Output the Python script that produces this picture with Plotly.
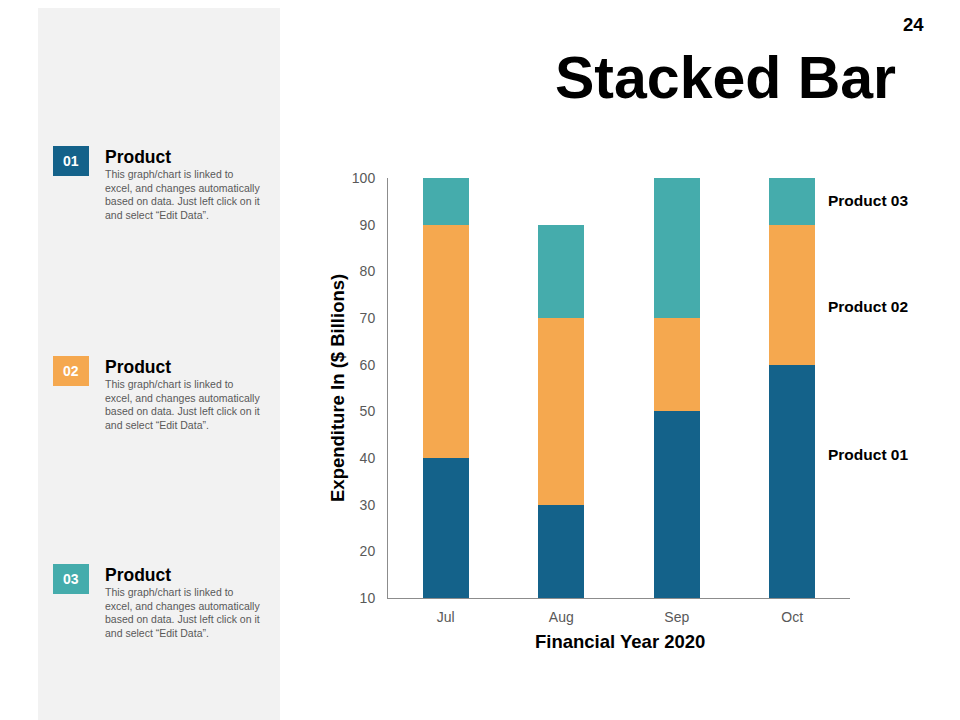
import plotly.graph_objects as go

months = ["Jul", "Aug", "Sep", "Oct"]
product_01 = [40, 30, 50, 60]
product_02 = [50, 40, 20, 30]
product_03 = [10, 20, 30, 10]
series_names = ["Product 01", "Product 02", "Product 03"]
colors = ["#14628A", "#F5A84F", "#45ACAC"]

body = ("This graph/chart is linked to<br>excel, and changes automatically<br>"
        "based on data. Just left click on it<br>and select \u201cEdit Data\u201d.")

# page offset of the browser (body margin)
OFF = 8
W, H = 960, 720
# plot area in screen pixels
L, R, T, B = 388, 850, 178, 598


def px(x):
    return (x - L) / (R - L)


def py(y):
    return (B - y) / (B - T)


def note(x, y, text, size, color="#000000", xa="center", ya="middle", **kw):
    return dict(x=px(x), y=py(y), xref="paper", yref="paper", text=text,
                showarrow=False, xanchor=xa, yanchor=ya,
                font=dict(size=size, color=color), **kw)


fig = go.Figure()
for name, vals, col in zip(series_names, [product_01, product_02, product_03], colors):
    fig.add_trace(go.Bar(x=months, y=vals, name=name, marker_color=col,
                         marker_line_width=0))

shapes = []
annotations = []

# grey side panel
shapes.append(dict(type="rect", xref="paper", yref="paper", x0=px(38), x1=px(280),
                   y0=py(740), y1=py(-20), fillcolor="#F2F2F2", line_width=0, layer="below"))

# left side items
items = [("01", 146, colors[0]), ("02", 356, colors[1]), ("03", 564, colors[2])]
for num, top, col in items:
    shapes.append(dict(type="rect", xref="paper", yref="paper", x0=px(53), x1=px(89),
                       y0=py(top + 30), y1=py(top), fillcolor=col, line_width=0))
    annotations.append(note(71, top + 15, "<b>" + num + "</b>", 14, "white"))
    annotations.append(note(103, top + 11, "<b>Product</b>", 17.5, xa="left"))
    annotations.append(note(103, top + 20, body, 10.5, "#595959", xa="left", ya="top",
                            align="left"))

# right side series labels
for name, ypos in zip(series_names, [454, 306, 200]):
    annotations.append(note(826, ypos, "<b>" + name + "</b>", 15.5, xa="left"))

# titles
annotations.append(note(898, 78, "<b>Stacked Bar</b>", 59, xa="right"))
annotations.append(note(926, 25, "<b>24</b>", 18.5, xa="right"))
annotations.append(note(620, 641, "<b>Financial Year 2020</b>", 18.5))
annotations.append(note(337, 388, "<b>Expenditure In ($ Billions)</b>", 18.5,
                        textangle=-90))

fig.update_layout(
    barmode="stack",
    bargap=0.6,
    width=W, height=H,
    margin=dict(l=L - OFF, r=W - R + OFF, t=T - OFF, b=H - B + OFF, pad=0),
    paper_bgcolor="white",
    plot_bgcolor="white",
    showlegend=False,
    font=dict(family="Liberation Sans, Arial, sans-serif"),
    shapes=shapes,
    annotations=annotations,
)
fig.update_xaxes(showline=True, linecolor="#8C8C8C", linewidth=1, ticks="",
                 tickfont=dict(size=14, color="#595959"), showgrid=False,
                 ticklabelstandoff=6)
fig.update_yaxes(range=[10, 100], dtick=10, showline=True, linecolor="#8C8C8C",
                 linewidth=1, showgrid=False, zeroline=False, ticks="",
                 tickfont=dict(size=14, color="#595959"), ticklabelstandoff=9)

fig.write_html("out.html")
